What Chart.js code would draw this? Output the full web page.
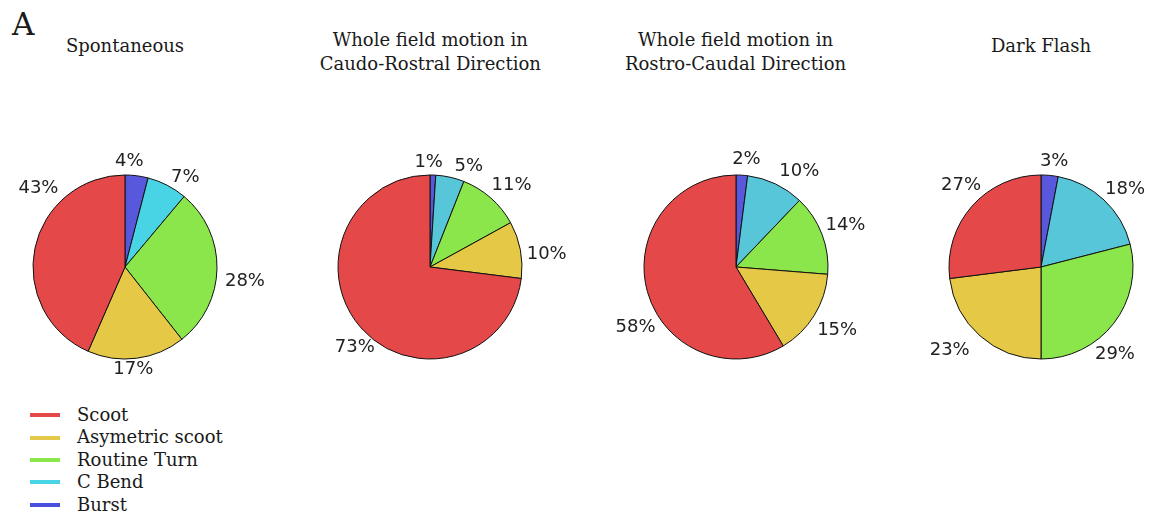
<!DOCTYPE html>
<html>
<head>
<meta charset="utf-8">
<script src="https://cdn.jsdelivr.net/npm/chart.js@4/dist/chart.umd.min.js"></script>
<style>
  html, body { margin: 0; padding: 0; background: #fff; }
  body { position: relative; width: 1149px; height: 514px; overflow: hidden; font-family: "DejaVu Serif", serif; color: #1a1a1a; }
  .panel-tag { position: absolute; left: 12px; top: 9px; font-size: 31px; line-height: 31px; }
  .title { position: absolute; width: 300px; text-align: center; font-size: 18px; line-height: 24px; }
  canvas { position: absolute; }
  #legend { position: absolute; left: 30px; top: 404px; }
  .row { display: flex; align-items: center; height: 22.4px; font-size: 18px; line-height: 22.4px; }
  .swatch { width: 30px; height: 4px; margin-right: 17px; }
</style>
</head>
<body>
<div class="panel-tag">A</div>
<div id="legend"></div>

<script>
// categories in legend order (top to bottom)
const categories = ['Scoot', 'Asymetric scoot', 'Routine Turn', 'C Bend', 'Burst'];

// percentage of each movement type, same order as categories
const spontaneous   = [43, 17, 28, 7, 4];
const caudoRostral  = [73, 10, 11, 5, 1];
const rostroCaudal  = [58, 15, 14, 10, 2];
const darkFlash     = [27, 23, 29, 18, 3];

const titles = [
    ['Spontaneous'],
    ['Whole field motion in', 'Caudo-Rostral Direction'],
    ['Whole field motion in', 'Rostro-Caudal Direction'],
    ['Dark Flash']
];

const sliceColours  = ['#e44848', '#e4c846', '#8ae64a', '#56c6d8', '#5858dc'];
const legendColours = ['#e44848', '#e4c84a', '#8ae64a', '#48d4e4', '#4a4fe0'];

// layout of the four pies
const centresX = [125, 430.3, 735.5, 1041];
const centreY = 266.5;
const pieRadius = 92;
const titleTops = [34, 28, 28, 34];

// where each percentage sits: [angle nudge from slice middle (deg), distance from centre (px)]
const labelSpots = [
    [[31, 118], [2.6, 101], [5, 120.6], [6, 110], [-5, 108]],
    [[-5, 109], [3.8, 117.6], [3, 116.5], [8, 110], [-2.5, 107]],
    [[-14.6, 116], [-0.5, 118.4], [-0.8, 117.8], [7.5, 116.5], [1.8, 110]],
    [[4.8, 115.4], [6.8, 122.5], [11.2, 112.7], [3.2, 116], [1.6, 108.3]]
];

const conditions = [spontaneous, caudoRostral, rostroCaudal, darkFlash];

// percentage text outside each slice
const pctLabels = {
    id: 'pctLabels',
    afterDatasetsDraw(chart, args, opts) {
        const ctx = chart.ctx;
        const arcs = chart.getDatasetMeta(0).data;
        const values = chart.data.datasets[0].data;
        ctx.save();
        ctx.font = '18px "DejaVu Sans"';
        ctx.fillStyle = '#222';
        ctx.textAlign = 'center';
        ctx.textBaseline = 'alphabetic';
        arcs.forEach((arc, i) => {
            const spot = opts.spots[i];
            const mid = (arc.startAngle + arc.endAngle) / 2 + spot[0] * Math.PI / 180;
            const x = arc.x + Math.cos(mid) * spot[1];
            const y = arc.y + Math.sin(mid) * spot[1];
            ctx.fillText(values[i] + '%', x, y + 6.5);
        });
        ctx.restore();
    }
};

// legend
const legend = document.getElementById('legend');
categories.forEach((name, i) => {
    const row = document.createElement('div');
    row.className = 'row';
    const sw = document.createElement('div');
    sw.className = 'swatch';
    sw.style.background = legendColours[i];
    const txt = document.createElement('span');
    txt.textContent = name;
    row.appendChild(sw);
    row.appendChild(txt);
    legend.appendChild(row);
});

conditions.forEach((values, k) => {
    // title above each pie
    const t = document.createElement('div');
    t.className = 'title';
    t.style.left = (centresX[k] - 150) + 'px';
    t.style.top = titleTops[k] + 'px';
    t.innerHTML = titles[k].join('<br>');
    document.body.appendChild(t);

    const canvas = document.createElement('canvas');
    canvas.width = 300;
    canvas.height = 300;
    canvas.style.left = (centresX[k] - 150) + 'px';
    canvas.style.top = (centreY - 150) + 'px';
    document.body.appendChild(canvas);

    // pie is drawn clockwise from the top, Burst first
    const colours = sliceColours.slice();
    if (k === 0) colours[3] = '#48d4e4';
    const order = [4, 3, 2, 1, 0];

    new Chart(canvas.getContext('2d'), {
        type: 'pie',
        data: {
            labels: order.map(i => categories[i]),
            datasets: [{
                data: order.map(i => values[i]),
                backgroundColor: order.map(i => colours[i]),
                borderColor: '#111',
                borderWidth: 1,
                radius: pieRadius
            }]
        },
        options: {
            responsive: false,
            animation: false,
            layout: { padding: 0 },
            plugins: {
                legend: { display: false },
                tooltip: { enabled: false },
                pctLabels: { spots: order.map(i => labelSpots[k][i]) }
            }
        },
        plugins: [pctLabels]
    });
});
</script>
</body>
</html>
